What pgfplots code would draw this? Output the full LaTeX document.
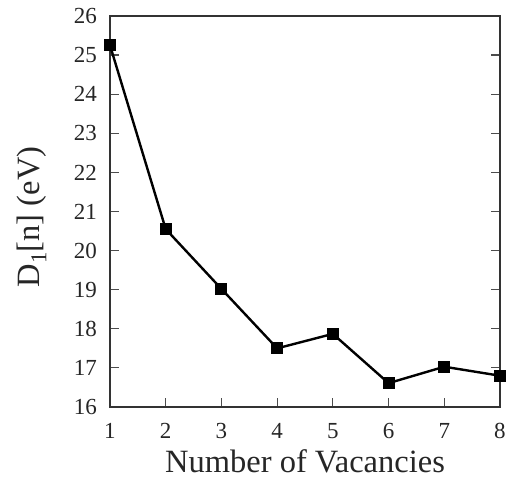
\documentclass[border=0pt]{standalone}
\usepackage{pgfplots}
\pgfplotsset{compat=1.18}
\usepackage{fontspec}
\setmainfont{Liberation Serif}
\begin{document}
\begin{tikzpicture}
\begin{axis}[
  scale only axis,
  at={(0pt,0pt)}, anchor=south west,
  width=390pt, height=391pt,
  xmin=1, xmax=8, ymin=16, ymax=26,
  xtick={1,...,8}, ytick={16,...,26},
  xtick pos=bottom, ytick pos=both,
  tick align=inside,
  major tick length=9pt,
  axis line style={line width=1.6pt, black!80},
  tick style={line width=1.2pt, black!70},
  /pgf/number format/assume math mode=true,
  tick label style={font=\fontsize{23}{27}\selectfont, black!85},
  xticklabel style={anchor=base, yshift=-31pt},
  yticklabel style={anchor=east, inner sep=0pt, xshift=-13pt},
  label style={font=\fontsize{32.5}{38}\selectfont, black!85},
  xlabel={Number of Vacancies},
  xlabel style={at={(axis description cs:0.5,0)}, anchor=base, yshift=-66pt},
  ylabel={D\textsubscript{1}[n] (eV)},
  ylabel style={at={(axis description cs:-0.1795,0.486)}, anchor=base, inner sep=0pt},
  clip=false,
]
\addplot[line width=2.4pt, black, mark=square*, mark size=4.8pt,
  mark options={solid}]
coordinates {
  (1,25.25) (2,20.55) (3,19.02) (4,17.50)
  (5,17.87) (6,16.61) (7,17.03) (8,16.80)
};
\end{axis}
% picture frame: room for labels around the 390pt x 391pt plot box
\pgfresetboundingbox
\path (-110pt,-77pt) rectangle (401pt,407pt);
\end{tikzpicture}
\end{document}
